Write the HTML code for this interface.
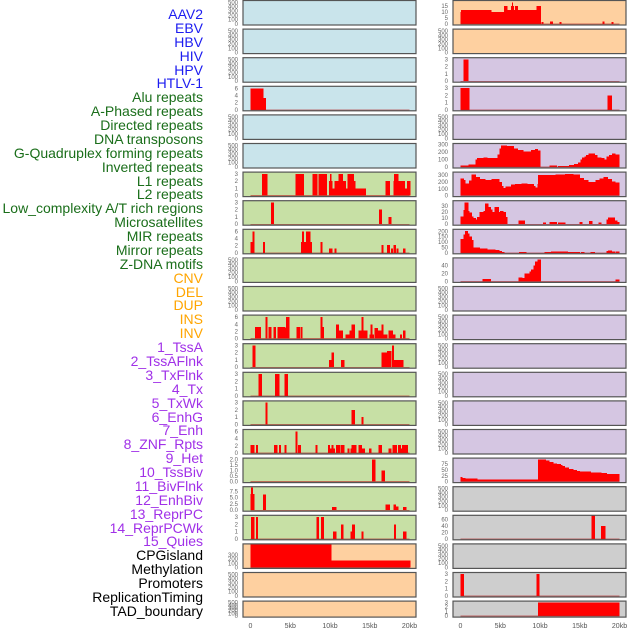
<!DOCTYPE html>
<html><head><meta charset="utf-8">
<style>
body{margin:0;background:#fff;width:630px;height:630px;overflow:hidden;position:relative;font-family:"Liberation Sans",sans-serif}
.lab{position:absolute;right:427px;font-size:14px;line-height:14px;white-space:nowrap}
svg{position:absolute;left:0;top:0}
</style></head><body>
<div id="labels"></div>
<svg id="chart" width="630" height="630"></svg>
<script>
const trackNames=["AAV2","EBV","HBV","HIV","HPV","HTLV-1","Alu repeats","A-Phased repeats","Directed repeats","DNA transposons","G-Quadruplex forming repeats","Inverted repeats","L1 repeats","L2 repeats","Low_complexity A/T rich regions","Microsatellites","MIR repeats","Mirror repeats","Z-DNA motifs","CNV","DEL","DUP","INS","INV","1_TssA","2_TssAFlnk","3_TxFlnk","4_Tx","5_TxWk","6_EnhG","7_Enh","8_ZNF_Rpts","9_Het","10_TssBiv","11_BivFlnk","12_EnhBiv","13_ReprPC","14_ReprPCWk","15_Quies","CPGisland","Methylation","Promoters","ReplicationTiming","TAD_boundary"];
const labelGroups=[6,13,5,15,5];
const groupColors=["#1c1cf0","#1a6e1a","#ffa500","#a030e8","#000000"];
const xTickValues=[0,5,10,15,20];
const xTickLabels=["0","5kb","10kb","15kb","20kb"];
const emptyTicks=[0,100,200,300,400,500];
const t3=[0,1,2,3], t6=[0,2,4,6], t100=[0,100,200,300];
// data: [startKb, endKb, value]
const dL4=[[0,1.6,6],[1.6,1.9,3.3]];
const dL7=[[1.5,2.1,3],[5.7,6.7,3],[7.8,8.4,3],[8.6,9.6,3],[9.9,10.3,2],[10.0,10.15,3],[10.3,10.6,1],[10.6,11.1,2],[11.1,11.6,3],[11.6,12.0,2],[12.0,12.2,1],[12.2,13.0,3],[13.0,13.2,2],[13.2,14.5,1],[17.0,17.5,2],[18.0,18.1,2],[18.1,18.6,3],[18.6,19.4,2],[19.4,19.7,1],[19.7,20.1,2]];
const dL8=[[2.6,2.9,3],[16.2,16.5,2],[17.4,17.7,1]];
const dL9=[[0,0.25,3],[0.25,0.5,6],[1.6,1.8,3],[6.4,6.5,3],[6.5,6.7,6],[6.7,7.0,3],[7.0,7.5,6],[7.5,7.7,3],[8.8,9.0,3],[9.9,10.3,1.2],[10.6,10.8,1.2],[16.5,16.7,2.2],[17.2,17.5,2.2],[17.7,17.9,1.2],[18.0,18.3,2.2],[18.4,18.6,1.2],[19.2,19.5,1.2]];
const dL12=[[0.6,1.3,3.3],[1.9,2.1,6],[2.3,2.6,3.3],[2.9,3.2,3.3],[3.4,4.4,3.3],[4.4,4.5,3],[4.5,4.9,6],[5.8,6.2,3.3],[6.3,6.5,3.3],[8.8,9.0,6],[9.0,9.2,3.3],[10.8,11.1,4],[11.1,11.6,2.2],[12.0,12.7,1.2],[12.5,12.7,2.2],[12.7,13.1,4],[13.6,14.0,2.2],[14.0,14.2,6],[14.2,14.7,2.2],[15.0,15.5,1.2],[15.1,15.3,4],[15.6,16.0,3],[16.0,16.2,2.2],[16.2,16.7,2.2],[16.5,16.7,4],[16.7,17.2,1.2],[17.4,17.9,2.2],[17.9,18.2,1.2],[18.8,19.0,1.2],[19.2,19.5,2.2]];
const dL13=[[0.25,0.6,3],[9.9,10.3,1],[10.2,10.5,2],[11.4,11.8,1],[16.5,17.2,2],[17.2,17.7,2.2],[17.8,18.0,3],[18.0,19.2,1]];
const dL14=[[1.0,1.4,3],[3.1,3.6,3],[4.3,4.7,3]];
const dL15=[[1.9,2.1,3],[12.7,13.1,2],[14.0,14.2,1]];
const dL16=[[0,0.5,2.2],[0.7,0.9,2.2],[3.0,3.4,2.2],[3.6,3.8,2.2],[4.3,4.5,2.2],[5.7,5.9,6],[6.0,6.3,2.2],[8.2,8.4,2.2],[9.8,10.0,2.2],[10.0,10.2,1.2],[10.2,10.4,2.2],[10.4,10.6,1.2],[10.8,11.3,2.2],[11.4,11.8,2.2],[12.2,12.4,1.2],[12.6,12.8,1.2],[12.7,13.3,2.2],[13.6,14.0,2.2],[14.0,14.4,1.2],[14.9,15.2,1.2],[16.1,16.5,2.2],[17.4,17.7,1.2],[17.9,18.4,2.2],[18.6,18.9,2.2],[18.9,19.1,1.2],[19.1,19.4,2.2],[19.4,19.8,2.2]];
const dL17=[[15.3,15.7,2],[16.5,16.9,1]];
const dL18=[[0,0.5,6.5],[0.1,0.3,9],[1.6,1.9,6.3],[10.3,10.8,1.3],[17.0,17.5,2.3],[18.0,18.6,1.5],[18.0,18.3,2.3],[19.2,19.6,1.3]];
const dL19=[[0.1,0.5,3],[0.7,0.9,3],[8.3,8.6,3],[8.9,9.2,3],[10.4,10.8,1],[11.4,11.7,2],[12.6,12.9,1],[12.8,13.1,2],[14.0,14.2,1],[18.1,18.3,2],[19.2,19.6,1]];
const dL20=[[0,10.15,560],[10.15,20.1,170]];
const dR1=[[0,0.2,10],[0.1,3.9,12],[3.9,5.5,10],[5.5,5.9,15],[5.9,6.4,12],[6.4,6.7,15],[6.5,6.6,18],[6.7,6.9,12],[6.9,7.2,15],[7.2,9.6,12],[9.6,10.1,15],[10.2,10.4,1.5],[11.3,11.6,2],[12.45,12.7,1.5],[17.9,18.1,2],[19.0,19.2,1.5]];
const dR3=[[0.4,1.0,3]];
const dR4=[[0,1.1,3],[18.5,19.0,2]];
const dR6=[[0,1.0,20],[1.0,1.9,35],[1.9,2.1,100],[2.1,2.9,120],[2.9,3.4,130],[3.4,4.65,120],[4.65,4.9,170],[4.9,5.15,250],[5.15,5.8,290],[5.8,6.7,280],[6.7,7.2,250],[7.2,7.9,230],[7.9,8.9,210],[8.9,9.4,230],[9.4,9.7,240],[9.7,10.05,220],[11.2,12.1,20],[12.3,13.7,15],[13.7,14.3,30],[14.3,14.8,40],[14.8,15.1,60],[15.1,15.3,100],[15.3,15.6,130],[15.6,15.8,140],[15.8,16.1,160],[16.1,16.9,180],[16.9,17.2,160],[17.2,17.7,130],[17.7,18.1,120],[18.1,18.4,100],[18.4,18.7,140],[18.7,19.1,160],[19.1,19.5,180],[19.5,20.0,170]];
const dR7=[[0,0.4,250],[0.4,0.6,230],[0.6,1.1,180],[1.1,1.4,220],[1.4,1.9,310],[1.9,2.4,270],[2.4,3.1,240],[3.1,3.9,230],[3.9,4.9,240],[4.9,5.2,200],[5.2,5.4,140],[5.4,5.7,110],[5.7,6.4,130],[6.4,6.9,160],[6.9,7.7,170],[7.7,8.4,180],[8.4,9.2,170],[9.2,9.4,140],[9.4,9.7,120],[9.7,9.9,170],[9.8,12.0,300],[12.0,13.2,310],[13.2,14.2,320],[14.2,15.0,310],[15.0,15.5,260],[15.5,16.1,230],[16.1,17.0,200],[17.0,17.5,230],[17.5,18.0,250],[18.0,18.5,270],[18.5,19.0,240],[19.0,19.5,210],[19.5,20.0,195]];
const dR8=[[0,0.4,13],[0.4,0.5,23],[0.5,1.0,36],[1.0,1.1,22],[1.1,1.4,19],[1.4,1.6,13],[1.6,1.9,10],[1.9,2.1,8],[2.1,2.4,12],[2.4,2.9,20],[2.9,3.1,22],[3.1,3.5,34],[3.5,3.8,28],[3.8,4.0,24],[4.0,4.3,20],[4.3,4.8,28],[4.8,5.0,20],[5.0,5.4,22],[5.4,5.7,20],[5.7,5.9,12],[7.3,8.1,6],[10.4,10.7,3],[11.2,12.1,4],[12.3,13.2,3],[15.0,15.3,4],[16.2,16.6,5],[17.4,17.7,3],[18.4,18.6,8],[18.6,19.4,11],[19.4,19.7,6],[19.7,20.0,4]];
const dR9=[[0,0.4,130],[0.4,0.6,170],[0.6,0.9,205],[0.9,1.1,180],[1.1,1.4,150],[1.4,1.6,120],[1.6,2.4,50],[2.4,2.9,42],[2.9,3.1,38],[3.1,3.4,40],[3.4,4.4,32],[4.4,4.9,25],[4.9,5.2,15],[5.2,5.5,8],[7.4,8.3,8],[10.6,11.4,8],[11.4,13.5,14],[13.5,15.0,8],[15.2,15.6,8],[16.4,16.9,8],[18.4,18.6,15],[18.6,19.0,20],[19.0,19.4,14],[19.5,20.0,12]];
const dR10=[[2.8,3.8,6],[7.3,7.8,10],[7.8,8.1,8],[8.1,8.7,20],[8.7,8.9,25],[8.9,9.2,30],[9.2,9.4,40],[9.4,9.7,50],[9.7,10.1,55],[19.5,20.0,5]];
const dR17=[[0,0.25,20],[0.25,0.6,16],[0.6,2.1,13],[2.1,9.8,8],[9.8,10.7,95],[10.7,11.2,92],[11.2,11.7,85],[11.7,12.1,78],[12.1,12.6,75],[12.6,12.8,72],[12.8,13.1,68],[13.1,13.6,60],[13.6,14.2,55],[14.2,14.6,50],[14.6,15.0,45],[15.0,16.4,43],[16.4,17.7,40],[17.7,18.4,38],[18.4,20.0,33]];
const dR19=[[16.5,16.9,75],[17.7,18.2,40]];
const dR21=[[0.05,0.4,3],[9.6,9.9,3]];
const dR22=[[9.8,20.0,3]];

const BG={b:"#c9e4eb",g:"#c7e0a5",o:"#fed0a0",p:"#d5c6e2",y:"#cecece"};
const E={ticks:emptyTicks,ymax:520,data:null};
function P(ticks,ymax,data,labels){return {ticks,ymax,data,labels:labels||ticks.map(String)};}
const leftCol=[
 ["b",E],["b",E],["b",E],["b",P(t6,6.3,dL4)],["b",E],["b",E],
 ["g",P(t3,3.1,dL7)],["g",P(t3,3.1,dL8)],["g",P(t6,6.3,dL9)],["g",E],["g",E],["g",P(t6,6.3,dL12)],["g",P(t3,3.1,dL13)],
 ["g",P(t3,3.1,dL14)],["g",P(t3,3.1,dL15)],["g",P(t6,6.3,dL16)],["g",P([0,0.5,1,1.5,2],2.05,dL17,["0.0","0.5","1.0","1.5","2.0"])],
 ["g",P([0,2.5,5,7.5],9,dL18,["0.0","2.5","5.0","7.5"])],["g",P(t3,3.1,dL19)],
 ["o",P(t100,550,dL20)],["o",E],["o",E]];
const rightCol=[
 ["o",P([0,5,10,15],19,dR1)],["o",E],["p",P(t3,3.1,dR3)],["p",P(t3,3.1,dR4)],["p",E],
 ["p",P(t100,300,dR6)],["p",P(t100,330,dR7)],["p",P([0,10,20,30],37,dR8)],["p",P([0,50,100,150,200],210,dR9)],
 ["p",P([0,20,40],57,dR10)],["p",E],["p",E],["p",E],["p",E],["p",E],["p",E],
 ["p",P([0,25,50,75],97,dR17)],["y",E],["y",P([0,20,40,60],70,dR19)],["y",E],["y",P(t3,3.1,dR21)],["y",P(t3,3.1,dR22)]];

const labDiv=document.getElementById('labels');
let gi=0,cnt=0;
trackNames.forEach((n,i)=>{
  while(cnt>=labelGroups[gi]){cnt=0;gi++;}
  cnt++;
  const d=document.createElement('div');
  d.className='lab';
  d.style.top=(7+i*13.88)+'px';
  d.style.color=groupColors[gi];
  d.textContent=n;
  
  
  labDiv.appendChild(d);
});

const NS="http://www.w3.org/2000/svg";
const svg=document.getElementById('chart');
function el(tag,attrs,parent){const e=document.createElementNS(NS,tag);for(const k in attrs)e.setAttribute(k,attrs[k]);(parent||svg).appendChild(e);return e;}
const PW=173, PXK=7.95;
function drawCol(col,x0,ci){
  col.forEach((c,i)=>{
    const spec=c[1];
    const top=0.5+28.6*i, h=(i===21)?16:24.5, bot=top+h;
    const g=el('g',{});
    
    
    const cid='c'+ci+'_'+i;
    const cp=el('clipPath',{id:cid},g);el('rect',{x:x0,y:top,width:PW,height:h},cp);
    el('rect',{x:x0,y:top,width:PW,height:h,fill:BG[c[0]]},g);
    const xs=kb=>x0+7.5+kb*PXK;
    const ys=v=>bot-1-v/spec.ymax*(h-2);
    spec.ticks.forEach((t,k)=>{
      const tx=el('text',{x:x0-5,y:ys(t)+2,'font-size':'6','text-anchor':'end',fill:'#666'},g);
      tx.textContent=spec.labels?spec.labels[k]:String(t);
      
      
    });
    if(spec.data){
      const bg=el('g',{'clip-path':'url(#'+cid+')','shape-rendering':'crispEdges'},g);
      spec.data.forEach(d=>{
        const r=el('rect',{x:xs(d[0])-0.2,y:ys(d[2]),width:Math.max(1,xs(d[1])-xs(d[0])+0.4),height:Math.max(0,ys(0)-ys(d[2])),fill:'#ff0000'},bg);
        
        
      });
      el('line',{x1:xs(0),x2:xs(20),y1:ys(0)+0.3,y2:ys(0)+0.3,stroke:'#b02020','stroke-opacity':'0.6','stroke-width':'1.4'},bg);
    }
    el('rect',{x:x0,y:top,width:PW,height:h,fill:'none',stroke:'#555','stroke-width':'1.2'},g);
  });
  xTickValues.forEach((v,k)=>{
    const t=el('text',{x:x0+7.5+v*PXK,y:628,'font-size':'7','text-anchor':'middle',fill:'#555'});
    t.textContent=xTickLabels[k];
    
    
  });
}
drawCol(leftCol,243,0);
drawCol(rightCol,453,1);
</script>
</body></html>
